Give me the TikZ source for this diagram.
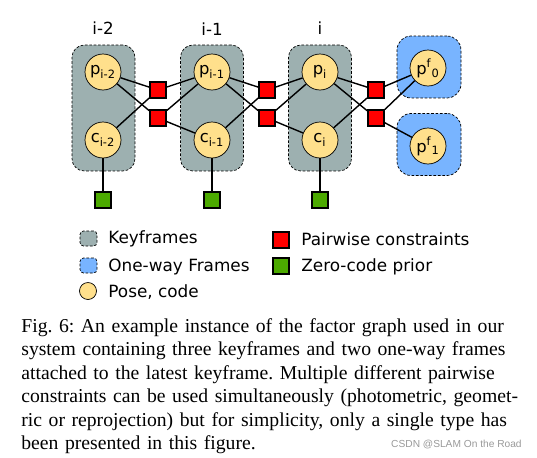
\documentclass[tikz,border=0pt]{standalone}
\usepackage{fontspec}
\setmainfont{Liberation Serif}
\newfontfamily\dejavu{DejaVu Sans}
\newfontfamily\wmfont{Liberation Sans}
\usepackage{tikz}
\usetikzlibrary{shapes,arrows,positioning}
\definecolor{kfgray}{HTML}{9DB0B0}
\definecolor{owblue}{HTML}{78B4FF}
\definecolor{poseyellow}{HTML}{FFE08C}
\definecolor{pairred}{HTML}{FF0000}
\definecolor{priorgreen}{HTML}{4CAA00}
\frenchspacing

\begin{document}
\begin{tikzpicture}[x=0.02cm, y=-0.02cm, font=\dejavu]
    % Define styles
    \tikzstyle{keyframe} = [rectangle, rounded corners=7pt, minimum width=1.26cm, minimum height=2.52cm, draw=black, dash pattern=on 1.5pt off 1pt, fill=kfgray]
    \tikzstyle{oneway} = [rectangle, rounded corners=8pt, minimum width=1.28cm, minimum height=1.24cm, draw=black, dash pattern=on 1.5pt off 1pt, fill=owblue]
    \tikzstyle{pose} = [circle, minimum size=0.72cm, inner sep=0pt, draw=black, fill=poseyellow, font=\dejavu\fontsize{9.3}{10}\selectfont]
    \tikzstyle{pairwise} = [rectangle, minimum size=0.32cm, inner sep=0pt, draw=black, line width=1pt, fill=pairred]
    \tikzstyle{prior} = [rectangle, minimum size=0.32cm, inner sep=0pt, draw=black, line width=1pt, fill=priorgreen]
    \tikzstyle{frameid} = [anchor=base, inner sep=0pt, font=\dejavu\fontsize{9.5}{11}\selectfont]
    \tikzstyle{legend} = [anchor=base west, inner sep=0pt, font=\dejavu\fontsize{9.6}{11}\selectfont]
    \tikzstyle{link} = [line width=0.8pt]

    \useasboundingbox (0,0) rectangle (537,457);

    % Nodes
    \node[keyframe] (kf1) at (103.5,108) {};
    \node[keyframe] (kf2) at (212,108) {};
    \node[keyframe] (kf3) at (320,108) {};
    \node[oneway] (ow0) at (429,67) {};
    \node[oneway] (ow1) at (429,144.5) {};

    \node[frameid] (id1) at (103,34) {i-2};
    \node[frameid] (id2) at (212,35) {i-1};
    \node[frameid] (id3) at (320,34) {i};

    \node[pose] (p1) at (103,72) {p\textsubscript{i-2}};
    \node[pose] (c1) at (103,140) {c\textsubscript{i-2}};
    \node[pose] (p2) at (212,72) {p\textsubscript{i-1}};
    \node[pose] (c2) at (212,140) {c\textsubscript{i-1}};
    \node[pose] (p3) at (320,72) {p\textsubscript{i}};
    \node[pose] (c3) at (320,140) {c\textsubscript{i}};
    \node[pose] (f0) at (428,68) {p\textsuperscript{f}\textsubscript{0}};
    \node[pose] (f1) at (428,146) {p\textsuperscript{f}\textsubscript{1}};

    \node[pairwise] (r1a) at (158,90) {};
    \node[pairwise] (r1b) at (158,118) {};
    \node[pairwise] (r2a) at (267,90) {};
    \node[pairwise] (r2b) at (267,118) {};
    \node[pairwise] (r3a) at (376,90) {};
    \node[pairwise] (r3b) at (376,118) {};

    \node[prior] (g1) at (103,200) {};
    \node[prior] (g2) at (212,200) {};
    \node[prior] (g3) at (320,200) {};

    % Legend
    \node[keyframe, minimum width=0.34cm, minimum height=0.3cm, rounded corners=2pt] (lkf) at (88.5,238.5) {};
    \node[legend] (lkftext) at (108,243) {Keyframes};
    \node[oneway, minimum width=0.34cm, minimum height=0.3cm, rounded corners=2pt] (low) at (88.5,265.5) {};
    \node[legend] (lowtext) at (108,271) {One-way Frames};
    \node[pose, minimum size=0.34cm] (lpose) at (88,291) {};
    \node[legend] (lposetext) at (108,297) {Pose, code};
    \node[pairwise] (lpair) at (281,240) {};
    \node[legend] (lpairtext) at (301,245) {Pairwise constraints};
    \node[prior] (lprior) at (281,266) {};
    \node[legend] (lpriortext) at (301,271) {Zero-code prior};

    % Caption
    \node[anchor=north west, inner sep=0pt, text width=10.04cm, align=left, font=\rmfamily\fontsize{11.2}{13.4}\selectfont] (caption) at (21,318) {%
        \makebox[10.04cm][s]{Fig. 6: An example instance of the factor graph used in our}\\
        \makebox[10.04cm][s]{system containing three keyframes and two one-way frames}\\
        \makebox[10.04cm][s]{attached to the latest keyframe. Multiple different pairwise}\\
        \makebox[10.04cm][s]{constraints can be used simultaneously (photometric, geomet-}\\
        \makebox[10.04cm][s]{ric or reprojection) but for simplicity, only a single type has}\\
        been presented in this figure.};
    \node[anchor=base east, inner sep=0pt, font=\wmfont\fontsize{5.8}{7}\selectfont, text=black!40] (watermark) at (522,447) {CSDN @SLAM On the Road};

    % Connections
    \draw[link] (p1) -- (r1a);
    \draw[link] (c1) -- (r1a);
    \draw[link] (r1a) -- (p2);
    \draw[link] (p1) -- (r1b);
    \draw[link] (r1b) -- (p2);
    \draw[link] (r1b) -- (c2);
    \draw[link] (p2) -- (r2a);
    \draw[link] (c2) -- (r2a);
    \draw[link] (r2a) -- (p3);
    \draw[link] (p2) -- (r2b);
    \draw[link] (r2b) -- (p3);
    \draw[link] (r2b) -- (c3);
    \draw[link] (p3) -- (r3a);
    \draw[link] (c3) -- (r3a);
    \draw[link] (r3a) -- (f0);
    \draw[link] (p3) -- (r3b);
    \draw[link] (r3b) -- (f0);
    \draw[link] (r3b) -- (f1);
    \draw[link] (c1) -- (g1);
    \draw[link] (c2) -- (g2);
    \draw[link] (c3) -- (g3);
\end{tikzpicture}
\end{document}
